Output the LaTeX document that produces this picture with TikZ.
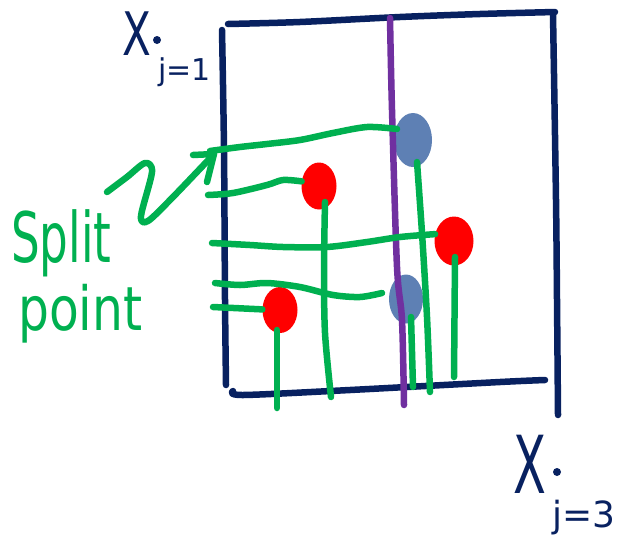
\documentclass[tikz,border=0pt]{standalone}
\usepackage{fontspec}
\setmainfont{DejaVu Sans}
\usetikzlibrary{shapes.geometric,calc}
\definecolor{navy}{RGB}{8,33,96}
\definecolor{sgreen}{RGB}{0,176,80}
\definecolor{spurple}{RGB}{112,48,160}
\definecolor{pred}{RGB}{255,0,0}
\definecolor{pblue}{RGB}{94,128,180}
\begin{document}
\begin{tikzpicture}[x=1pt,y=-1pt,line cap=round,line join=round,
  frame/.style={draw=navy,line width=6.5pt},
  hand/.style={draw=sgreen,line width=6.5pt},
  splitline/.style={draw=spurple,line width=6.5pt},
  redpt/.style={ellipse,fill=pred,inner sep=0pt},
  bluept/.style={ellipse,fill=pblue,inner sep=0pt},
  navytext/.style={text=navy,inner sep=0pt},
  greentext/.style={text=sgreen,inner sep=0pt}]
\useasboundingbox (0,0) rectangle (628,541);
% frame
\draw[frame] plot[smooth] coordinates {(222,30) (224,150) (225,300) (226,385)};
\draw[frame] plot[smooth] coordinates {(228,24) (300,22) (400,17) (480,14) (555,12)};
\draw[frame] plot[smooth] coordinates {(553,14) (556,200) (557,300) (558,415)};
\draw[frame] plot[smooth] coordinates {(233,391) (243,395) (350,390) (500,382) (545,380)};
% points
\node[redpt,minimum width=35pt,minimum height=47pt] (r1) at (319,186) {};
\node[redpt,minimum width=39pt,minimum height=49pt] (r2) at (454,241) {};
\node[redpt,minimum width=35pt,minimum height=46pt] (r3) at (280,310) {};
\node[bluept,minimum width=38pt,minimum height=54pt] (b1) at (413,140) {};
\node[bluept,minimum width=34pt,minimum height=49pt] (b2) at (406,299) {};
% split line
\draw[splitline] plot[smooth] coordinates {(390,18) (392,110) (397,267) (402,320) (404,405)};
% green horizontal split lines
\draw[hand] plot[smooth] coordinates {(210,151) (240,147) (267,144) (300,140) (333,133) (367,127) (397,129)};
\draw[hand] plot[smooth] coordinates {(208,195) (233,193) (267,185) (283,180) (r1.165)};
\draw[hand] plot[smooth] coordinates {(212,243) (250,245) (283,247) (327,247) (367,242) (400,237) (r2.160)};
\draw[hand] plot[smooth] coordinates {(215,283) (240,285) (267,283) (300,287) (333,295) (360,297) (382,293)};
\draw[hand] (213,307) -- (r3.178);
% green verticals
\draw[hand] plot[smooth] coordinates {($(r1.center)+(6,16)$) (324,267) (325,333) (331,397)};
\draw[hand] plot[smooth] coordinates {($(b1.center)+(4,22)$) (422,233) (427,317) (430,392)};
\draw[hand] ($(r2.center)+(1,16)$) -- (454,377);
\draw[hand] ($(b2.center)+(5,18)$) -- (413,387);
\draw[hand] ($(r3.center)+(-3,20)$) -- (277,408);
% arrow
\coordinate (tip) at (214,154);
\draw[hand] plot[smooth] coordinates {(107,192) (127,177) (145,163) (152,172) (141,216) (148,221) (173,197) (tip)};
\draw[hand] (193,155) -- (tip) -- (207,182);
% text
\node[greentext,anchor=base west] (split) at (11,262) {\fontsize{58}{60}\selectfont\scalebox{0.78}[1.2]{Split}};
\node[greentext,anchor=base west] (point) at (18,330) {\fontsize{58}{60}\selectfont\scalebox{0.84}[1.05]{point}};
\node[navytext,anchor=base west] (x1) at (122,55) {\fontsize{60}{60}\selectfont\scalebox{0.7}[1]{X}};
\fill[navy] (157,40) circle (4);
\node[navytext,anchor=base west] (j1) at (158,80) {\fontsize{30}{30}\selectfont j=1};
\node[navytext,anchor=base west] (x3) at (513,493) {\fontsize{80}{80}\selectfont\scalebox{0.6}[1]{X}};
\fill[navy] (557,472) circle (4);
\node[navytext,anchor=base west] (j3) at (552,527) {\fontsize{36}{36}\selectfont j=3};
\end{tikzpicture}
\end{document}
